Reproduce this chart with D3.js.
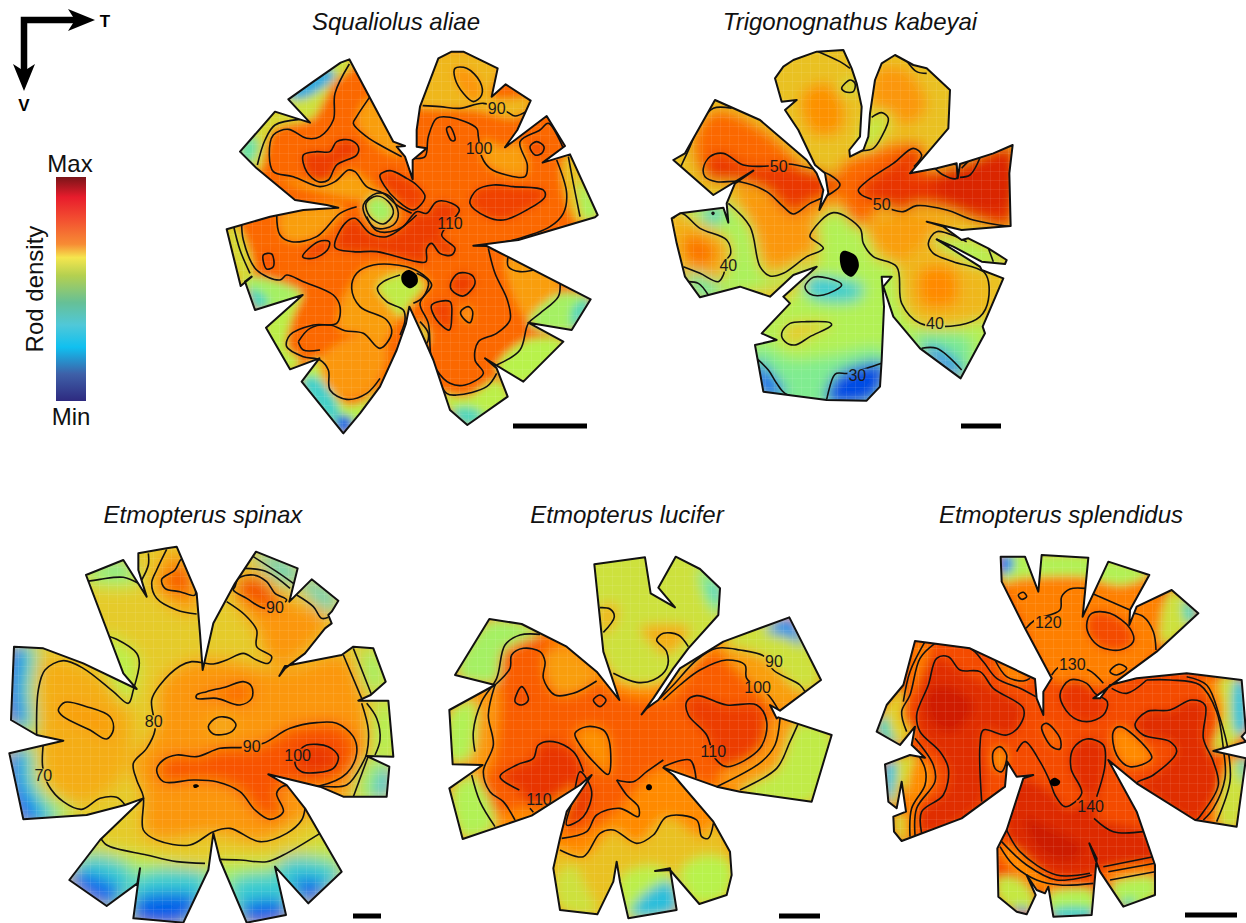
<!DOCTYPE html>
<html>
<head>
<meta charset="utf-8">
<script src="https://cdn.jsdelivr.net/npm/d3@7"></script>
<style>
  html, body { margin: 0; background: #fff; }
  text { font-family: "Liberation Sans", Arial, sans-serif; }
</style>
</head>
<body>
<div id="chart"></div>
<script>

// --- Squaliolus aliae
var aliaeOutline = [[655,55],[695,35],[730,35],[833,85],[815,170],[857,133],[932,182],[892,270],[855,322],[885,300],[980,228],[1035,318],[968,368],[1050,343],[1133,525],[1125,532],[895,600],[760,617],[800,618],[1112,778],[1055,870],[925,848],[1030,905],[910,1025],[795,955],[830,985],[863,1070],[742,1155],[690,1110],[640,960],[605,880],[568,800],[558,850],[530,930],[480,1040],[420,1120],[370,1180],[245,1025],[298,955],[210,988],[138,863],[248,765],[105,810],[75,725],[95,710],[62,738],[20,568],[150,530],[250,510],[355,503],[320,495],[225,480],[110,385],[60,335],[165,215],[270,248],[205,178],[280,125],[362,68],[388,58],[520,305],[555,318],[530,320],[555,350],[578,418],[578,360],[620,325],[590,320],[590,270],[600,200]];
var aliaeZones = [
  [.6,[[590,200],[650,40],[840,70],[815,170],[940,175],[895,232],[760,210],[600,205]]],
  [.5,[[190,170],[370,40],[400,70],[340,130],[270,240],[200,200]]],
  [.2,[[205,170],[320,85],[345,105],[250,175]]],
  [.52,[[50,335],[165,205],[260,240],[160,270],[115,395]]],
  [.33,[[55,335],[95,285],[115,320],[85,375]]],
  [.66,[[410,240],[450,170],[555,340],[520,345],[450,300]]],
  [.52,[[15,565],[45,550],[100,700],[70,745]]],
  [.42,[[75,725],[105,710],[245,760],[130,810]]],
  [.3,[[85,750],[110,815],[145,785],[110,750]]],
  [.46,[[130,863],[248,760],[215,840],[200,920],[240,965],[210,995]]],
  [.45,[[240,1020],[300,955],[330,1040],[380,1095],[430,1085],[480,1040],[370,1190]]],
  [.28,[[245,1025],[340,1145],[360,1120],[285,1010]]],
  [.05,[[345,1150],[370,1185],[400,1145],[370,1125]]],
  [.46,[[690,1110],[650,1060],[740,1070],[830,1020],[870,1075],[742,1165]]],
  [.3,[[695,1115],[742,1160],[790,1125],[740,1100]]],
  [.45,[[830,985],[920,900],[1035,905],[910,1035]]],
  [.66,[[860,650],[1020,720],[1010,770],[930,840],[885,780]]],
  [.42,[[925,850],[1020,760],[1115,778],[1055,875]]],
  [.3,[[1060,800],[1115,778],[1060,870]]],
  [.58,[[1050,335],[1140,525],[1075,550],[1025,380]]],
  [.43,[[1075,420],[1140,525],[1095,540]]],
  [.66,[[790,300],[850,320],[900,310],[920,400],[850,400],[790,360]]],
  [.66,[[180,525],[370,500],[290,590],[200,600]]],
  [.66,[[400,720],[440,680],[560,685],[630,730],[590,780],[520,860],[480,925],[430,880],[360,870],[360,800]]],
  [.47,[[470,740],[545,700],[610,735],[570,790],[545,830],[500,785]]],
  [.68,[[300,960],[440,880],[500,930],[470,1030],[400,1075],[330,1050]]],
  [.5,[[595,845],[625,880],[620,915],[605,905]]],
  [.65,[[180,420],[320,425],[400,395],[480,470],[430,480]]]
];
var aliaeBands = [
  [.88,[[250,345],[290,335],[330,335],[350,305],[390,300],[415,320],[410,345],[350,375],[325,420],[295,425],[260,395]]],
  [.86,[[480,405],[510,392],[560,415],[590,435],[615,470],[580,510],[530,480],[495,440]]],
  [.86,[[750,490],[770,450],[820,435],[880,440],[970,450],[975,470],[920,510],[850,540],[800,530]]],
  [.88,[[345,622],[375,550],[405,535],[450,580],[500,590],[550,560],[590,515],[620,520],[650,485],[695,490],[718,510],[665,585],[705,625],[695,645],[660,640],[635,610],[620,625],[618,665],[590,665],[470,635],[400,635]]],
  [.86,[[248,650],[295,605],[328,605],[322,630],[280,655]]],
  [.84,[[130,645],[155,642],[160,680],[140,687]]],
  [.87,[[692,730],[715,700],[755,705],[765,730],[730,768],[695,750]]],
  [.86,[[635,795],[690,785],[695,830],[688,870],[650,840]]],
  [.68,[[722,815],[745,800],[758,815],[750,848],[730,835]]],
  [.68,[[705,85],[740,85],[780,125],[785,165],[760,185],[730,160],[705,115]]],
  [.8,[[680,265],[690,260],[705,300],[695,302]]],
  [.85,[[930,320],[950,305],[972,320],[965,340],[945,345]]],
  [.62,[[430,495],[470,460],[510,470],[535,520],[520,555],[470,565],[440,535]]],
  [.42,[[438,490],[470,468],[505,485],[520,520],[490,552],[450,530]]]
];
var aliaeLines = [
  [[608,197],[660,200],[720,205],[790,190],[860,215],[885,228],[918,215]],
  [[580,355],[615,350],[625,290],[650,235],[690,232],[770,265],[775,290],[785,350],[810,385],[860,405],[915,410],[922,375],[900,305],[960,270],[985,250],[1030,325]],
  [[112,375],[135,300],[165,255],[240,238]],
  [[388,72],[345,160],[340,240],[300,290],[260,295],[205,268],[160,285],[148,345],[160,395],[220,410],[300,440],[345,425],[385,390],[405,395],[440,440],[490,460],[530,495],[575,520]],
  [[450,170],[410,230],[400,250],[440,290],[480,315],[545,350]],
  [[170,522],[180,585],[215,605],[290,590],[360,520],[410,500]],
  [[440,530],[470,572],[530,570],[590,525]],
  [[40,555],[60,630],[90,700]],
  [[65,540],[70,600],[110,690],[180,720],[200,705],[250,725],[340,765],[360,800],[350,850],[280,855],[210,885],[200,920],[250,950],[300,960],[325,990],[330,1050],[380,1078],[440,1060],[480,1015]],
  [[235,905],[270,865],[330,855],[375,872],[430,880],[480,925],[515,880],[500,840],[420,800],[395,745],[410,700],[460,675],[560,680],[610,705],[635,735],[600,790],[625,850],[635,960],[680,1060],[710,1065],[800,1040],[830,1000]],
  [[235,905],[250,930],[300,930]],
  [[540,705],[490,725],[472,745],[500,785],[550,810],[555,840],[540,885]],
  [[590,700],[625,725],[610,770],[580,790]],
  [[600,845],[625,880],[620,910],[605,905]],
  [[805,625],[825,700],[862,780],[870,840],[830,880],[775,905],[765,960],[790,1000],[735,1035],[690,1030],[650,990],[635,950]],
  [[865,645],[865,680],[900,695],[965,685]],
  [[1020,725],[1015,770],[960,820],[925,850],[900,930],[830,975]],
  [[1010,360],[1040,460],[1030,520],[990,560],[880,600],[800,615]],
  [[1045,350],[1060,430],[1080,530]]
];
var aliaeLabels = [["90",830,205],["100",777,325],["110",690,550]];
var aliaeDisc = [[545,705],[565,690],[590,705],[592,730],[570,745],[548,730]];

// --- Trigonognathus kabeyai
var kabeyaiOutline = [[345,115],[370,80],[400,60],[470,35],[550,30],[575,85],[590,130],[605,200],[600,290],[568,330],[570,350],[610,330],[625,290],[630,220],[645,120],[665,70],[705,45],[760,75],[800,85],[870,150],[865,265],[750,400],[830,385],[890,370],[893,415],[900,372],[1000,340],[1058,315],[1048,400],[1052,558],[905,570],[800,545],[850,560],[905,600],[925,595],[985,625],[1040,660],[1035,672],[965,665],[880,620],[830,598],[960,680],[965,690],[1030,715],[968,860],[975,880],[902,1015],[780,925],[700,830],[670,740],[695,710],[665,710],[672,800],[665,960],[660,1040],[620,1082],[500,1080],[310,1055],[285,915],[350,900],[305,880],[390,790],[370,770],[470,680],[400,705],[330,770],[240,740],[120,772],[75,710],[50,610],[35,535],[60,520],[190,503],[205,548],[200,490],[225,430],[280,392],[160,465],[40,360],[75,340],[165,180],[300,240],[440,360],[470,400],[490,450],[478,510],[505,460],[495,400],[465,375],[415,270],[375,210],[410,180],[365,185]];
var kabeyaiZones = [
  [.44,[[440,610],[520,510],[610,570],[650,660],[710,680],[725,800],[780,860],[900,860],[980,840],[960,1020],[700,1000],[600,1100],[270,1070],[270,900],[400,760],[480,640]]],
  [.43,[[200,490],[270,560],[300,680],[330,712],[450,660],[400,720],[240,760],[100,780],[190,705],[215,640],[200,590],[60,510]]],
  [.3,[[125,515],[190,500],[185,540],[150,555]]],
  [.7,[[430,160],[500,130],[550,200],[540,270],[470,285],[430,230]]],
  [.68,[[650,90],[740,90],[800,200],[730,260],[700,220],[640,200]]],
  [.68,[[340,440],[590,440],[600,470],[500,510],[440,570],[340,560]]],
  [.78,[[540,380],[780,310],[800,400],[680,490],[590,560],[540,470]]],
  [.68,[[230,440],[400,520],[480,600],[330,680],[280,560]]],
  [.78,[[100,300],[165,210],[300,260],[420,370],[440,420],[300,420],[130,400]]],
  [.66,[[620,560],[790,520],[900,580],[800,640],[960,690],[700,660]]],
  [.6,[[820,610],[960,690],[985,780],[960,830],[800,840],[730,770],[720,680]]],
  [.72,[[785,690],[880,690],[885,790],[790,795]]],
  [.44,[[805,590],[930,600],[1040,665],[960,680],[850,625]]],
  [.62,[[40,535],[65,520],[120,565],[200,600],[212,640],[190,705],[175,725],[120,700],[70,680]]],
  [.76,[[70,600],[120,590],[170,640],[130,680],[85,665]]],
  [.48,[[630,225],[680,220],[680,260],[640,325],[600,335]]],
  [.28,[[440,730],[510,715],[610,740],[590,780],[450,770]]],
  [.36,[[285,915],[400,960],[500,950],[670,930],[670,1090],[300,1070]]],
  [.08,[[285,960],[325,990],[375,1065],[300,1065]]],
  [.02,[[500,1085],[530,1005],[675,970],[665,1050],[620,1090]]],
  [.35,[[760,890],[930,900],[905,1020]]],
  [.12,[[785,925],[830,925],[905,990],[900,1020]]],
  [.1,[[85,725],[115,730],[145,765],[115,778]]],
  [.35,[[75,700],[160,720],[180,760],[120,780]]]
];
var kabeyaiBands = [
  [.89,[[130,385],[150,350],[190,340],[250,375],[325,378],[385,372],[440,382],[510,405],[540,435],[510,462],[450,490],[400,522],[370,500],[320,455],[240,425],[170,425],[135,410]]],
  [.45,[[545,145],[570,120],[585,130],[580,155],[555,155]]],
  [.26,[[435,740],[460,712],[505,715],[545,735],[490,765],[450,762]]],
  [.56,[[365,880],[390,850],[440,845],[510,848],[515,855],[450,890],[405,915],[375,905]]],
  [.2,[[157,518],[161,518],[161,522],[157,522]]]
];
// these two fill the red parts without drawing a closed contour
var kabeyaiReds = [
  [.9,[[595,445],[625,420],[700,370],[760,325],[785,345],[750,400],[890,370],[1058,315],[1052,560],[940,540],[860,510],[770,497],[730,515],[700,510],[640,480],[605,465]]],
  [.96,[[360,420],[450,410],[470,470],[400,500]]],
  [.95,[[820,440],[1000,340],[1050,340],[1050,500],[900,500]]]
];
var kabeyaiLines = [
  [[475,35],[540,65],[570,85]],
  [[605,332],[640,325],[665,290],[685,235],[665,218],[635,232]],
  [[740,62],[770,95],[800,100]],
  [[60,385],[90,320],[120,250],[160,205],[215,205]],
  [[825,385],[890,375],[890,415],[850,405],[825,385]],
  [[900,412],[930,405],[960,345],[930,360],[905,385]],
  [[762,380],[785,345],[760,325],[700,370],[625,420],[595,450],[605,465],[640,480],[700,510],[730,515],[770,497],[860,510],[940,540],[1052,560]],
  [[205,490],[270,560],[300,680],[330,708],[370,700],[440,650],[490,625],[450,590],[455,575],[520,518],[600,565],[610,610],[640,650],[710,680],[725,790],[780,850],[900,855],[960,830],[985,780],[975,700],[880,665],[820,640],[805,610],[830,575],[920,605]],
  [[830,598],[880,625],[960,680]],
  [[985,625],[1000,665]],
  [[40,535],[65,520],[120,565],[200,600],[212,640],[200,660],[190,705],[175,725],[120,700],[70,680]],
  [[80,725],[115,730],[145,765]],
  [[785,925],[830,925],[905,990]],
  [[290,955],[325,990],[350,1030],[375,1060],[430,1075]],
  [[500,1078],[520,1010],[530,1000],[565,1000],[620,985],[665,970]]
];
var kabeyaiLabels = [["50",356,378],["50",665,492],["40",205,675],["40",825,850],["30",592,1005]];
var kabeyaiDisc = [[542,640],[552,632],[588,648],[596,682],[575,710],[550,695],[540,665]];

// --- Etmopterus spinax
var spinaxOutline = [[415,40],[500,25],[530,20],[590,160],[600,280],[608,390],[640,250],[705,130],[768,35],[893,85],[868,185],[935,118],[1015,182],[995,215],[985,225],[995,250],[975,265],[915,340],[855,385],[838,408],[855,378],[1025,345],[1060,320],[1120,325],[1157,425],[1112,465],[1075,482],[1165,482],[1180,650],[1100,648],[1168,680],[1160,770],[1030,770],[960,740],[805,703],[860,735],[915,805],[1025,995],[925,1090],[825,980],[858,1125],[740,1148],[660,960],[640,880],[625,990],[550,1148],[400,1135],[420,985],[412,1030],[320,1098],[208,1020],[300,900],[430,775],[375,795],[260,825],[70,838],[28,640],[190,602],[110,585],[33,540],[42,320],[130,325],[250,370],[410,447],[370,400],[258,105],[370,60],[440,170],[415,90]];
var spinaxZones = [
  [.68,[[480,430],[570,365],[680,360],[850,390],[1030,345],[1100,520],[1100,650],[1040,770],[905,840],[780,905],[640,880],[470,900],[430,870],[430,770],[400,670],[465,570]]],
  [.68,[[700,170],[850,180],[985,240],[850,380],[800,350],[770,270]]],
  [.66,[[455,130],[510,30],[560,60],[590,220],[530,210]]],
  [.62,[[130,360],[250,380],[380,490],[400,560],[360,720],[230,790],[140,720],[120,500]]],
  [.42,[[25,640],[100,620],[120,740],[230,820],[100,850],[60,850]]],
  [.26,[[25,640],[85,625],[100,730],[170,845],[60,850]]],
  [.1,[[25,640],[55,630],[65,730],[120,840],[60,850]]],
  [.42,[[30,320],[110,320],[100,450],[105,590],[30,550]]],
  [.26,[[30,320],[95,325],[85,450],[90,560],[30,550]]],
  [.08,[[30,320],[60,320],[55,450],[65,555],[30,550]]],
  [.44,[[250,100],[370,60],[420,130],[260,130]]],
  [.36,[[258,100],[370,60],[400,105]]],
  [.46,[[312,285],[415,355],[405,430],[385,490],[340,440]]],
  [.5,[[200,900],[320,915],[530,965],[620,975],[660,958],[850,945],[1000,880],[1040,1000],[900,1100],[560,1160],[400,1140],[300,1100]]],
  [.42,[[230,960],[610,990],[660,980],[800,980],[1000,950],[1020,1000],[900,1100],[560,1160],[320,1110]]],
  [.27,[[205,1020],[275,945],[400,1000],[330,1105]]],
  [.27,[[400,1135],[415,1010],[625,1010],[550,1150]]],
  [.27,[[690,1030],[840,1010],[860,1130],[740,1150]]],
  [.27,[[830,985],[880,950],[1025,995],[925,1095]]],
  [.08,[[200,1020],[240,995],[360,1050],[330,1105]]],
  [.06,[[395,1140],[410,1075],[600,1075],[550,1155]]],
  [.06,[[720,1100],[850,1085],[870,1130],[740,1155]]],
  [.07,[[880,1020],[975,1030],[925,1100]]],
  [.3,[[890,110],[935,118],[1015,182],[990,215]]],
  [.3,[[760,35],[893,85],[870,135]]],
  [.42,[[1085,330],[1120,325],[1157,425],[1112,465]]],
  [.44,[[1130,490],[1170,480],[1180,650],[1130,645]]],
  [.42,[[1105,650],[1170,680],[1165,775],[1065,770]]],
  [.24,[[1140,690],[1170,680],[1160,775],[1125,775]]]
];
var spinaxBands = [
  [.82,[[470,690],[490,660],[530,645],[590,650],[660,625],[730,622],[790,610],[870,565],[950,548],[1010,550],[1060,590],[1070,640],[1040,700],[960,737],[850,738],[830,760],[850,815],[810,838],[765,810],[720,755],[650,725],[580,720],[490,725]]],
  [.9,[[885,670],[900,630],[920,615],[985,620],[1015,650],[1000,685],[950,698],[905,695]]],
  [.78,[[590,465],[620,455],[680,440],[730,425],[755,440],[755,475],[720,495],[650,475],[590,475]]],
  [.62,[[625,560],[650,533],[690,535],[708,555],[690,578],[640,582]]],
  [.66,[[175,510],[195,487],[260,500],[330,530],[340,570],[320,597],[270,570],[190,530]]],
  [.82,[[545,58],[525,90],[485,118],[495,145],[540,155],[585,165]]],
  [.84,[[705,140],[715,115],[760,105],[800,125],[825,160],[860,180],[795,205],[740,175],[700,150]]]
];
var spinaxLines = [
  [[258,125],[300,118],[370,112],[415,130]],
  [[425,120],[445,75],[445,40]],
  [[500,28],[470,90],[455,130],[470,175],[530,210],[590,222]],
  [[735,85],[800,95],[870,145]],
  [[760,50],[830,95],[880,130]],
  [[890,165],[940,200],[965,235],[985,232]],
  [[680,185],[735,225],[770,270],[770,320],[815,350],[805,370],[770,360],[730,340],[680,360],[640,372],[575,365],[540,378],[480,435],[455,480],[465,570],[440,625],[400,670],[410,720],[430,770],[430,870],[470,900],[570,915],[640,875],[690,865],[780,905],[860,880],[905,840],[915,805]],
  [[312,285],[350,298],[410,340],[418,370],[400,450],[385,490],[340,455],[250,385],[190,362],[135,390],[115,450],[110,590]],
  [[130,610],[128,680],[145,735],[190,785],[245,808],[300,775],[350,772],[375,795]],
  [[1030,345],[1085,475]],
  [[1060,325],[1115,465]],
  [[1100,490],[1130,535],[1140,600],[1125,645]],
  [[1105,648],[1060,770]],
  [[1085,490],[1105,570],[1100,640],[1090,665],[1040,735],[960,737]],
  [[300,890],[320,915],[440,945],[530,965],[615,970]],
  [[660,958],[720,960],[800,965],[850,945],[960,880]]
];
var spinaxLabels = [["90",825,203],["80",461,545],["90",755,618],["100",893,645],["70",130,705]];
var spinaxDisc = [[580,735],[590,733],[597,738],[590,743],[582,743]];

// --- Etmopterus lucifer
var luciferOutline = [[463,58],[615,37],[632,145],[705,187],[655,128],[707,35],[780,72],[840,130],[835,210],[745,310],[700,370],[640,460],[605,508],[620,490],[655,465],[720,370],[850,290],[1048,217],[1143,405],[1020,497],[990,480],[1010,520],[1015,517],[1175,570],[1115,770],[900,740],[830,725],[670,668],[700,690],[820,830],[870,920],[875,990],[860,1050],[778,1077],[690,975],[645,978],[690,970],[710,1095],[565,1120],[540,1010],[530,950],[520,1010],[472,1108],[360,1095],[340,970],[360,880],[380,800],[455,690],[420,720],[275,812],[68,882],[28,730],[128,660],[38,658],[28,495],[165,420],[45,390],[148,222],[245,237],[380,305],[470,380],[538,465],[490,320]];
var luciferZones = [
  [.5,[[450,40],[850,20],[850,220],[690,400],[590,420],[510,380]]],
  [.6,[[480,180],[530,180],[530,230],[490,270]]],
  [.62,[[600,250],[750,250],[680,330],[640,300]]],
  [.36,[[780,70],[845,130],[835,210],[790,150]]],
  [.26,[[810,110],[840,130],[835,180]]],
  [.8,[[520,440],[680,460],[800,330],[900,330],[1010,490],[1015,600],[960,660],[830,725],[670,668],[600,720],[590,810],[440,860],[370,880],[380,800],[450,690],[165,800],[100,600],[165,430],[200,300],[300,270],[380,310],[470,400]]],
  [.66,[[320,320],[380,310],[470,400],[360,450],[320,400]]],
  [.68,[[100,560],[125,450],[170,420],[165,620],[120,740],[165,845],[80,870]]],
  [.44,[[30,500],[100,465],[90,640],[30,650]]],
  [.44,[[35,735],[95,690],[165,845],[70,880]]],
  [.42,[[50,390],[150,225],[300,260],[190,320],[170,410]]],
  [.66,[[830,305],[970,335],[1090,440],[1020,495],[920,400],[860,345]]],
  [.5,[[850,290],[1050,215],[1145,405],[1090,440],[970,335]]],
  [.15,[[980,255],[1050,215],[1090,300],[1050,280]]],
  [.68,[[830,725],[1010,670],[1075,535],[1010,510]]],
  [.47,[[900,740],[1010,670],[1075,530],[1180,570],[1115,775]]],
  [.72,[[480,865],[520,855],[590,895],[640,870],[680,815],[770,825],[805,880],[820,835],[700,690],[600,720],[540,790],[440,860],[365,880],[360,915],[430,935]]],
  [.58,[[340,915],[430,935],[520,855],[590,895],[680,815],[785,875],[820,835],[875,920],[870,1060],[780,1080],[565,1125],[470,1110],[355,1095]]],
  [.45,[[720,980],[800,930],[875,960],[860,1050],[780,1080]]],
  [.46,[[540,1000],[640,960],[700,1000],[710,1100],[565,1125]]],
  [.24,[[575,1110],[600,1060],[690,1010],[710,1095]]],
  [.5,[[345,1000],[400,960],[430,1010],[470,1110],[360,1095]]],
  [.9,[[180,695],[230,660],[280,640],[295,600],[340,590],[400,620],[430,680],[420,700],[280,790],[238,735]]]
];
var luciferBands = [
  [.88,[[740,470],[770,452],[860,480],[950,480],[980,530],[960,610],[860,665],[825,640],[800,570],[745,510]]],
  [.85,[[245,425],[265,465],[245,480],[225,470]]],
  [.82,[[460,465],[480,450],[498,465],[480,485]]],
  [.7,[[405,565],[440,545],[490,555],[508,590],[505,688],[470,660],[420,600]]],
  [.9,[[420,680],[455,740],[430,815],[380,840],[400,760]]]
];
var luciferLines = [
  [[480,188],[510,192],[523,215],[490,262]],
  [[745,305],[715,270],[670,265],[650,285],[680,320],[680,370],[640,405],[590,412],[520,385]],
  [[1095,440],[1080,420],[1000,375],[975,335],[900,315],[830,310],[770,345],[700,420],[660,460]],
  [[1015,495],[985,450],[920,400],[915,360],[860,345],[780,375],[720,420],[670,465]],
  [[1075,535],[1050,590],[1010,670],[900,735]],
  [[1020,520],[1005,600],[965,650],[830,725]],
  [[670,665],[750,645],[768,700]],
  [[300,268],[240,270],[195,300],[170,400],[125,470],[100,560],[105,620]],
  [[95,690],[120,770],[165,845]],
  [[165,420],[210,370],[215,330],[250,310],[300,320],[315,350],[310,400],[345,450],[400,445],[470,408]],
  [[165,420],[145,510],[160,600],[130,680],[150,740],[190,770],[225,825]],
  [[238,735],[180,695],[230,660],[280,640],[295,600],[340,590],[400,620],[430,680]],
  [[270,790],[280,802]],
  [[530,705],[580,710],[620,680],[670,645]],
  [[530,705],[560,750],[595,785],[595,815],[540,790],[470,810],[440,860],[365,880]],
  [[360,915],[430,935],[480,865],[520,855],[590,895],[640,870],[680,815],[770,825],[785,875],[805,880],[820,835]]
];
var luciferLabels = [["90",1002,350],["100",953,428],["110",820,620],["110",297,763]];
var luciferDisc = [[627,718],[634,721],[636,727],[634,733],[627,736],[620,733],[618,727],[620,721]];

// --- Etmopterus splendidus
var splendidusOutline = [[392,35],[465,35],[505,140],[515,30],[655,38],[638,215],[715,50],[838,90],[780,195],[778,240],[800,185],[905,135],[985,205],[860,320],[670,460],[690,460],[720,420],[800,400],[950,385],[1115,405],[1128,560],[1115,575],[1128,590],[1030,618],[1128,640],[1100,845],[975,825],[800,715],[715,645],[800,800],[855,960],[855,1050],[760,1085],[690,980],[658,895],[680,940],[665,1110],[550,1115],[535,1025],[525,1045],[500,1035],[470,990],[497,1050],[470,1108],[440,1100],[385,1055],[382,910],[410,855],[460,700],[490,690],[440,695],[412,650],[405,725],[275,820],[95,888],[72,860],[70,815],[108,800],[95,710],[80,790],[55,770],[45,658],[120,630],[165,638],[125,600],[135,545],[90,600],[20,560],[50,480],[100,420],[135,288],[300,310],[495,402],[500,460],[520,510],[520,440],[545,400],[465,250],[395,110]];
var splendidusZones = [
  [.74,[[380,20],[670,20],[850,90],[860,320],[690,420],[545,400],[465,250]]],
  [.44,[[392,25],[520,25],[660,30],[840,80],[760,120],[640,95],[450,100],[400,110]]],
  [.12,[[390,35],[425,35],[425,75],[395,85]]],
  [.5,[[905,135],[985,205],[880,300],[870,240]]],
  [.3,[[940,165],[985,205],[950,235]]],
  [.93,[[140,500],[200,340],[270,375],[370,430],[460,490],[420,570],[340,555],[335,770],[160,860],[155,800],[225,740],[235,670],[150,560]]],
  [.99,[[170,450],[220,420],[310,480],[250,560],[190,540]]],
  [.72,[[375,345],[460,380],[480,400],[430,410]]],
  [.74,[[120,380],[135,290],[180,290],[120,450]]],
  [.55,[[20,560],[50,480],[100,430],[100,520],[125,560],[90,600]]],
  [.3,[[20,560],[45,510],[65,560],[80,600]]],
  [.52,[[45,658],[145,635],[135,760],[120,880],[95,890],[70,815],[108,800],[95,710],[80,790],[55,770]]],
  [.25,[[45,658],[75,650],[65,760],[55,770]]],
  [.72,[[140,640],[180,660],[190,710],[135,790],[135,870],[110,880]]],
  [.94,[[410,860],[450,700],[555,750],[590,790],[680,760],[680,820],[820,860],[855,935],[700,965],[660,985],[560,990],[450,920]]],
  [1,[[470,820],[520,840],[640,910],[590,950],[500,910]]],
  [.72,[[385,910],[420,900],[560,1020],[665,1030],[660,1040],[540,1040],[440,990]]],
  [.48,[[385,1000],[440,1000],[495,1060],[470,1108],[385,1060]]],
  [.15,[[430,1090],[470,1090],[470,1110]]],
  [.44,[[535,1050],[670,1040],[665,1115],[550,1120]]],
  [.28,[[545,1095],[670,1095],[665,1120],[550,1120]]],
  [.74,[[700,985],[855,960],[855,990],[730,1020]]],
  [.44,[[725,1020],[855,1000],[855,1055],[760,1090]]],
  [.3,[[750,1070],[800,1060],[770,1090]]],
  [.92,[[600,630],[640,582],[700,600],[705,660],[680,755],[640,745],[605,680]]],
  [.72,[[1000,400],[1050,420],[1090,620],[1060,830],[1020,830],[1060,700],[1050,520]]],
  [.5,[[1050,400],[1118,405],[1128,560],[1030,618],[1060,500]]],
  [.25,[[1095,410],[1118,405],[1125,560],[1100,565]]],
  [.5,[[1085,650],[1130,640],[1100,850],[1050,840]]],
  [.3,[[1105,645],[1130,640],[1120,720]]]
];
var splendidusBands = [
  [.84,[[650,240],[665,205],[720,205],[780,250],[790,290],[750,315],[690,305],[660,275]]],
  [.74,[[445,150],[460,142],[470,155],[455,163]]],
  [.72,[[720,380],[745,358],[770,370],[740,390]]],
  [.9,[[570,450],[600,405],[650,415],[675,445],[712,470],[700,510],[650,530],[600,510]]],
  [.72,[[370,620],[390,605],[410,630],[395,680],[375,670]]],
  [.78,[[515,545],[530,535],[570,580],[570,612],[545,605]]],
  [.72,[[730,560],[750,545],[830,610],[845,640],[780,665],[740,630]]],
  [.93,[[795,540],[830,500],[900,495],[965,465],[1005,480],[1000,580],[1030,650],[1045,720],[1000,800],[975,825],[840,745],[800,715],[850,690],[920,620],[900,590],[820,570]]]
];
var splendidusLines = [
  [[468,250],[495,225],[570,195],[575,155],[600,132],[645,130]],
  [[665,145],[780,195]],
  [[790,205],[820,215],[850,260],[858,315]],
  [[545,390],[570,365],[655,375],[700,415]],
  [[725,430],[770,445],[830,405]],
  [[195,295],[150,340],[120,450],[95,500],[110,560]],
  [[165,290],[120,380],[100,470]],
  [[195,295],[300,310],[340,350],[380,400],[450,430],[497,455]],
  [[375,345],[410,395],[460,408],[480,400]],
  [[335,770],[330,600],[340,555],[410,570],[450,540],[460,490],[370,430],[330,380],[270,375],[235,335],[200,340],[175,420],[140,510],[150,560],[210,620],[235,670],[220,750],[155,800],[155,865]],
  [[135,580],[190,660],[195,710],[140,790],[135,870]],
  [[125,600],[165,670],[165,720],[125,790],[120,875]],
  [[440,620],[465,590],[510,650],[540,710],[555,750],[585,785],[635,745],[603,670],[610,610],[650,582],[700,600],[705,660],[680,755]],
  [[672,820],[730,860],[820,860]],
  [[830,405],[900,405],[990,420],[1040,500],[1060,610],[1065,700],[1030,790],[1000,825]],
  [[950,395],[1010,420],[1050,520],[1075,620],[1080,710],[1040,830]],
  [[410,855],[450,920],[560,990],[660,985]],
  [[700,965],[850,935]],
  [[395,890],[470,960],[560,1005],[665,990]],
  [[715,980],[855,955]],
  [[390,905],[430,960],[500,1005],[570,1020],[670,1015]],
  [[720,1005],[855,980]]
];
var splendidusLabels = [["120",535,232],["130",607,358],["140",662,785]];
var splendidusDisc = [[540,708],[553,698],[570,708],[568,718],[553,724],[540,716]];

// colour ramp of the maps and of the legend bar
var fieldStops = [0, .12, .26, .36, .45, .55, .63, .72, .82, .9, 1];
var fieldColors = ["#0040e0", "#0a80f0", "#30c8d8", "#80ec90", "#b8f24c", "#e2d02c", "#f6a814", "#ff8a00", "#f85200", "#e83400", "#cc1c00"];
var legendStops = [0, .09, .18, .3, .36, .44, .56, .66, .76, .88, 1];
var legendColors = ["#7a1418", "#e81c2c", "#f24a30", "#f78c34", "#f5e64e", "#b4d050", "#66c096", "#50c8d8", "#10c0f0", "#3e60a8", "#2e2a80"];

var panels = [
  {id: "aliae", title: "Squaliolus aliae", tx: 396, ty: 30, x0: 220, y0: 40, outline: aliaeOutline, zones: aliaeZones, bands: aliaeBands, lines: aliaeLines, labels: aliaeLabels, disc: aliaeDisc, base: .78, blur: 4, bar: [513, 587, 426]},
  {id: "kabeyai", title: "Trigonognathus kabeyai", tx: 850, ty: 30, x0: 660, y0: 40, outline: kabeyaiOutline, zones: kabeyaiZones.concat(kabeyaiReds), bands: kabeyaiBands, lines: kabeyaiLines, labels: kabeyaiLabels, disc: kabeyaiDisc, base: .58, blur: 7, bar: [961, 1001, 426]},
  {id: "spinax", title: "Etmopterus spinax", tx: 203, ty: 523, x0: 0, y0: 540, outline: spinaxOutline, zones: spinaxZones, bands: spinaxBands, lines: spinaxLines, labels: spinaxLabels, disc: spinaxDisc, base: .56, blur: 8, bar: [353, 381, 916]},
  {id: "lucifer", title: "Etmopterus lucifer", tx: 627, ty: 523, x0: 440, y0: 545, outline: luciferOutline, zones: luciferZones, bands: luciferBands, lines: luciferLines, labels: luciferLabels, disc: luciferDisc, base: .72, blur: 6, bar: [779, 820, 916]},
  {id: "splendidus", title: "Etmopterus splendidus", tx: 1061, ty: 523, x0: 870, y0: 545, outline: splendidusOutline, zones: splendidusZones, bands: splendidusBands, lines: splendidusLines, labels: splendidusLabels, disc: splendidusDisc, base: .84, blur: 5, bar: [1185, 1237, 915]}
];

var width = 1246, height = 923;

var svg = d3.select("#chart").append("svg")
  .attr("width", width)
  .attr("height", height)
  .style("display", "block");

var defs = svg.append("defs");

var color = d3.scaleLinear().domain(fieldStops).range(fieldColors).interpolate(d3.interpolateRgb);

var outlinePath = d3.line().curve(d3.curveLinearClosed);
var closedPath = d3.line().curve(d3.curveCatmullRomClosed.alpha(0.5));
var openPath = d3.line().curve(d3.curveCatmullRom.alpha(0.5));

// faint lattice seen on top of the density maps
var lattice = defs.append("pattern")
  .attr("id", "lattice")
  .attr("width", 9).attr("height", 9)
  .attr("patternUnits", "userSpaceOnUse");
lattice.append("path")
  .attr("d", "M9 0H0V9")
  .attr("fill", "none")
  .attr("stroke", "#fff")
  .attr("stroke-opacity", 0.16)
  .attr("stroke-width", 1);

panels.forEach(function(p) {
  var x = d3.scaleLinear().domain([0, 3]).range([p.x0, p.x0 + 1]);
  var y = d3.scaleLinear().domain([0, 3]).range([p.y0, p.y0 + 1]);
  var project = function(pts) {
    return pts.map(function(d) { return [x(d[0]), y(d[1])]; });
  };

  defs.append("clipPath").attr("id", "clip-" + p.id)
    .append("path").attr("d", outlinePath(project(p.outline)));
  defs.append("filter").attr("id", "blur-" + p.id)
    .attr("x", "-10%").attr("y", "-10%").attr("width", "120%").attr("height", "120%")
    .append("feGaussianBlur").attr("stdDeviation", p.blur);

  var g = svg.append("g").attr("id", p.id);

  var clipped = g.append("g").attr("clip-path", "url(#clip-" + p.id + ")");
  var field = clipped.append("g").attr("filter", "url(#blur-" + p.id + ")");

  field.append("rect")
    .attr("x", x(-60)).attr("y", y(-60))
    .attr("width", 460).attr("height", 460)
    .attr("fill", color(p.base));

  field.selectAll("path.zone")
    .data(p.zones.concat(p.bands))
    .enter().append("path")
    .attr("class", "zone")
    .attr("d", function(d) { return closedPath(project(d[1])); })
    .attr("fill", function(d) { return color(d[0]); });

  clipped.append("rect")
    .attr("x", x(-60)).attr("y", y(-60))
    .attr("width", 460).attr("height", 460)
    .attr("fill", "url(#lattice)");

  var labels = g.append("g").attr("class", "labels");

  // contour lines, with a gap left under each label
  var lineMask = defs.append("mask").attr("id", "mask-" + p.id)
    .attr("maskUnits", "userSpaceOnUse")
    .attr("x", 0).attr("y", 0).attr("width", width).attr("height", height);
  lineMask.append("rect").attr("width", width).attr("height", height).attr("fill", "#fff");

  var contours = g.append("g")
    .attr("clip-path", "url(#clip-" + p.id + ")")
    .append("g")
    .attr("mask", "url(#mask-" + p.id + ")")
    .attr("fill", "none")
    .attr("stroke", "#111")
    .attr("stroke-width", 1.6);

  contours.selectAll("path.band")
    .data(p.bands)
    .enter().append("path")
    .attr("class", "band")
    .attr("d", function(d) { return closedPath(project(d[1])); });

  contours.selectAll("path.line")
    .data(p.lines)
    .enter().append("path")
    .attr("class", "line")
    .attr("d", function(d) { return openPath(project(d)); });

  g.append("path")
    .attr("d", outlinePath(project(p.outline)))
    .attr("fill", "none")
    .attr("stroke", "#111")
    .attr("stroke-width", 2)
    .attr("stroke-linejoin", "round");

  g.append("path")
    .attr("d", closedPath(project(p.disc)))
    .attr("fill", "#000");

  labels.raise();
  labels.selectAll("text")
    .data(p.labels)
    .enter().append("text")
    .attr("x", function(d) { return x(d[1]); })
    .attr("y", function(d) { return y(d[2]); })
    .attr("dy", "0.35em")
    .attr("text-anchor", "middle")
    .attr("font-size", 16)
    .attr("fill", "#1a1a1a")
    .text(function(d) { return d[0]; })
    .each(function() {
      var b = this.getBBox();
      lineMask.append("rect")
        .attr("x", b.x - 1).attr("y", b.y + 2)
        .attr("width", b.width + 2).attr("height", b.height - 4)
        .attr("fill", "#000");
    });

  svg.append("text")
    .attr("x", p.tx).attr("y", p.ty)
    .attr("text-anchor", "middle")
    .attr("font-size", 24)
    .attr("font-style", "italic")
    .attr("fill", "#111")
    .text(p.title);

  svg.append("line")
    .attr("x1", p.bar[0]).attr("x2", p.bar[1])
    .attr("y1", p.bar[2]).attr("y2", p.bar[2])
    .attr("stroke", "#000")
    .attr("stroke-width", 5);
});

// orientation arrows
var arrows = svg.append("g").attr("id", "arrows");
arrows.append("path")
  .attr("d", "M24 71V20H76")
  .attr("fill", "none").attr("stroke", "#000").attr("stroke-width", 6.5);
arrows.append("path").attr("d", "M68 9L95 20L68 31L75 20Z").attr("fill", "#000");
arrows.append("path").attr("d", "M13 64L24 91L35 64L24 71Z").attr("fill", "#000");
arrows.append("text").attr("x", 105).attr("y", 27).attr("text-anchor", "middle")
  .attr("font-size", 17).attr("font-weight", "bold").text("T");
arrows.append("text").attr("x", 24).attr("y", 111).attr("text-anchor", "middle")
  .attr("font-size", 17).attr("font-weight", "bold").text("V");

// legend bar
var grad = defs.append("linearGradient").attr("id", "legend-ramp")
  .attr("x1", 0).attr("x2", 0).attr("y1", 0).attr("y2", 1);
grad.selectAll("stop")
  .data(legendStops)
  .enter().append("stop")
  .attr("offset", function(d) { return d; })
  .attr("stop-color", function(d, i) { return legendColors[i]; });

var legend = svg.append("g").attr("id", "legend");
legend.append("rect")
  .attr("x", 56).attr("y", 177)
  .attr("width", 30).attr("height", 224)
  .attr("fill", "url(#legend-ramp)");
legend.append("text").attr("x", 70).attr("y", 172).attr("text-anchor", "middle")
  .attr("font-size", 24).attr("fill", "#111").text("Max");
legend.append("text").attr("x", 71).attr("y", 425).attr("text-anchor", "middle")
  .attr("font-size", 24).attr("fill", "#111").text("Min");
legend.append("text")
  .attr("transform", "translate(43,289) rotate(-90)")
  .attr("text-anchor", "middle")
  .attr("font-size", 24).attr("fill", "#111").text("Rod density");
</script>
</body>
</html>
